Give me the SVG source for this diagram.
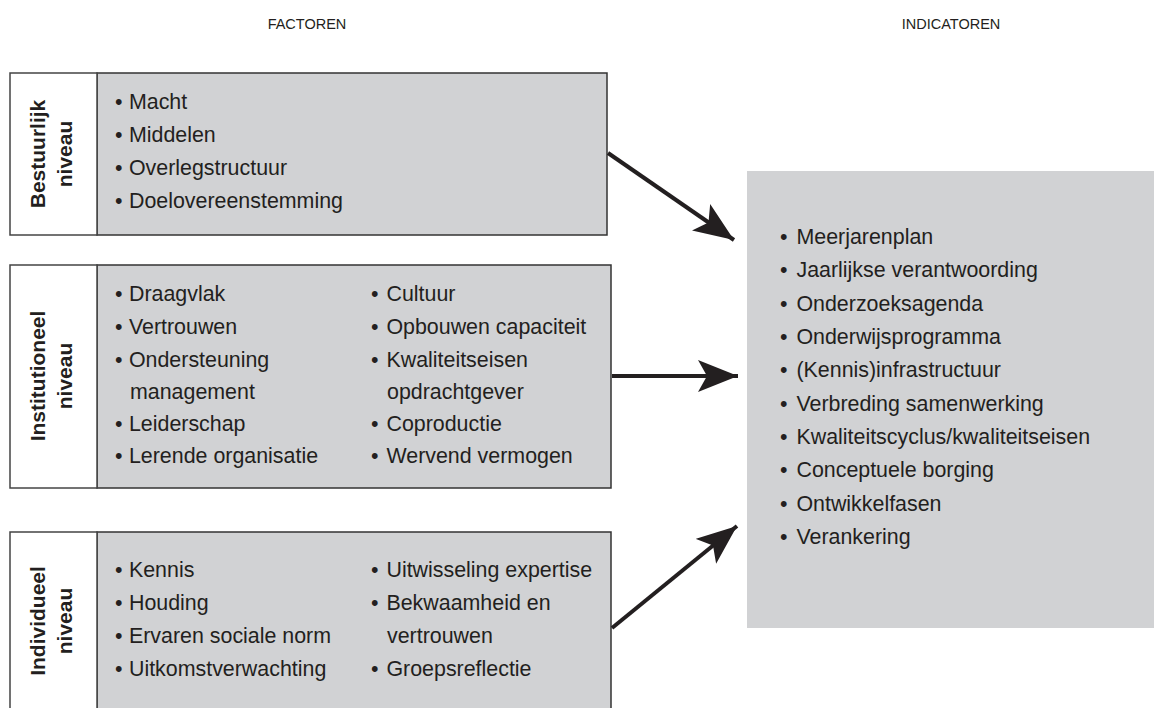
<svg xmlns="http://www.w3.org/2000/svg" width="1154" height="708" viewBox="0 0 1154 708">
<style>
  .hdr{font-family:"Liberation Sans",Arial,sans-serif;font-size:14.5px;fill:#231f20;text-anchor:middle}
  .t{font-family:"Liberation Sans",Arial,sans-serif;font-size:21.4px;fill:#231f20}
  .lbl{font-family:"Liberation Sans",Arial,sans-serif;font-size:21px;font-weight:bold;fill:#231f20;text-anchor:middle}
  .lab{fill:#ffffff;stroke:#444;stroke-width:1.5}
  .body{fill:#d1d2d4;stroke:#333;stroke-width:1.5}
  .conn{stroke:#231f20;stroke-width:4;fill:none}
</style>
<defs>
  <marker id="ah" viewBox="-40 -17 42 34" refX="0" refY="0" markerWidth="42" markerHeight="34" markerUnits="userSpaceOnUse" orient="auto">
    <path d="M0,0 L-40,-16 L-31,0 L-40,16 Z" fill="#231f20"/>
  </marker>
</defs>
<rect width="1154" height="708" fill="#ffffff"/>
<text class="hdr" x="307" y="29">FACTOREN</text>
<text class="hdr" x="951" y="29">INDICATOREN</text>

<g id="bestuurlijk">
  <rect class="body" x="97" y="73" width="510" height="162"/>
  <rect class="lab" x="10" y="73" width="87" height="162"/>
  <text class="lbl" transform="translate(45,154) rotate(-90)">Bestuurlijk</text>
  <text class="lbl" transform="translate(72,154) rotate(-90)">niveau</text>
  <text class="t" x="115" y="109">•<tspan dx="0.5"> Macht</tspan></text>
  <text class="t" x="115" y="142">•<tspan dx="0.5"> Middelen</tspan></text>
  <text class="t" x="115" y="175">•<tspan dx="0.5"> Overlegstructuur</tspan></text>
  <text class="t" x="115" y="208">•<tspan dx="0.5"> Doelovereenstemming</tspan></text>
</g>

<g id="institutioneel">
  <rect class="body" x="97" y="265" width="514" height="223"/>
  <rect class="lab" x="10" y="265" width="87" height="223"/>
  <text class="lbl" transform="translate(45,376) rotate(-90)">Institutioneel</text>
  <text class="lbl" transform="translate(72,376) rotate(-90)">niveau</text>
  <text class="t" x="115" y="301">•<tspan dx="0.5"> Draagvlak</tspan></text>
  <text class="t" x="115" y="334">•<tspan dx="0.5"> Vertrouwen</tspan></text>
  <text class="t" x="115" y="367">•<tspan dx="0.5"> Ondersteuning</tspan></text>
  <text class="t" x="130" y="399">management</text>
  <text class="t" x="115" y="431">•<tspan dx="0.5"> Leiderschap</tspan></text>
  <text class="t" x="115" y="463">•<tspan dx="0.5"> Lerende organisatie</tspan></text>
  <text class="t" x="371" y="301">•<tspan dx="2"> Cultuur</tspan></text>
  <text class="t" x="371" y="334">•<tspan dx="2"> Opbouwen capaciteit</tspan></text>
  <text class="t" x="371" y="367">•<tspan dx="2"> Kwaliteitseisen</tspan></text>
  <text class="t" x="387" y="399">opdrachtgever</text>
  <text class="t" x="371" y="431">•<tspan dx="2"> Coproductie</tspan></text>
  <text class="t" x="371" y="463">•<tspan dx="2"> Wervend vermogen</tspan></text>
</g>

<g id="individueel">
  <rect class="body" x="97" y="532" width="514" height="190"/>
  <rect class="lab" x="10" y="532" width="87" height="190"/>
  <text class="lbl" transform="translate(45,621) rotate(-90)">Individueel</text>
  <text class="lbl" transform="translate(72,621) rotate(-90)">niveau</text>
  <text class="t" x="115" y="577">•<tspan dx="0.5"> Kennis</tspan></text>
  <text class="t" x="115" y="610">•<tspan dx="0.5"> Houding</tspan></text>
  <text class="t" x="115" y="643">•<tspan dx="0.5"> Ervaren sociale norm</tspan></text>
  <text class="t" x="115" y="676">•<tspan dx="0.5"> Uitkomstverwachting</tspan></text>
  <text class="t" x="371" y="577">•<tspan dx="2"> Uitwisseling expertise</tspan></text>
  <text class="t" x="371" y="610">•<tspan dx="2"> Bekwaamheid en</tspan></text>
  <text class="t" x="387" y="643">vertrouwen</text>
  <text class="t" x="371" y="676">•<tspan dx="2"> Groepsreflectie</tspan></text>
</g>

<g id="indicatoren">
  <rect x="747" y="171" width="407" height="457" fill="#d1d2d4"/>
  <text class="t" x="780" y="244">•<tspan dx="3"> Meerjarenplan</tspan></text>
  <text class="t" x="780" y="277">•<tspan dx="3"> Jaarlijkse verantwoording</tspan></text>
  <text class="t" x="780" y="311">•<tspan dx="3"> Onderzoeksagenda</tspan></text>
  <text class="t" x="780" y="344">•<tspan dx="3"> Onderwijsprogramma</tspan></text>
  <text class="t" x="780" y="377">•<tspan dx="3"> (Kennis)infrastructuur</tspan></text>
  <text class="t" x="780" y="411">•<tspan dx="3"> Verbreding samenwerking</tspan></text>
  <text class="t" x="780" y="444">•<tspan dx="3"> Kwaliteitscyclus/kwaliteitseisen</tspan></text>
  <text class="t" x="780" y="477">•<tspan dx="3"> Conceptuele borging</tspan></text>
  <text class="t" x="780" y="511">•<tspan dx="3"> Ontwikkelfasen</tspan></text>
  <text class="t" x="780" y="544">•<tspan dx="3"> Verankering</tspan></text>
</g>

<g id="connectors">
  <line class="conn" x1="608" y1="153" x2="734" y2="240" marker-end="url(#ah)"/>
  <line class="conn" x1="612" y1="376" x2="738" y2="376" marker-end="url(#ah)"/>
  <line class="conn" x1="612" y1="628" x2="737" y2="526" marker-end="url(#ah)"/>
</g>
</svg>
